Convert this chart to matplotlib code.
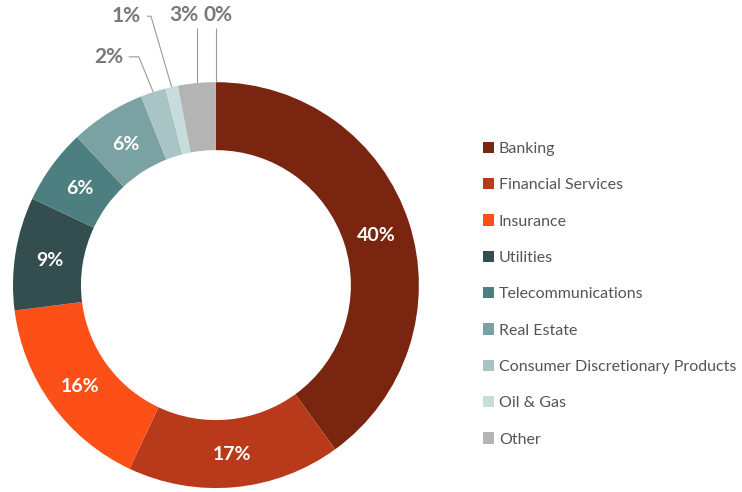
import numpy as np
import matplotlib
matplotlib.use("Agg")
import matplotlib.pyplot as plt

plt.rcParams["font.family"] = ["Lato", "DejaVu Sans"]

sectors = [
    "Banking",
    "Financial Services",
    "Insurance",
    "Utilities",
    "Telecommunications",
    "Real Estate",
    "Consumer Discretionary Products",
    "Oil & Gas",
    "Other",
    "",
]
weights = [40, 17, 16, 9, 6, 6, 2, 1, 3, 0]
colors = [
    "#7a2510", "#b83a1b", "#fd5019", "#344e4f", "#4d7e80",
    "#7ba2a3", "#a9c4c4", "#c9dcdc", "#b4b4b4", "#b4b4b4",
]

# small slices get an outside label: text position and elbow (data units)
outside = {
    6: ((-0.53, 1.125), (-0.38, 1.125)),
    7: ((-0.44, 1.325), (-0.32, 1.325)),
    8: ((-0.16, 1.33), None),
    9: ((0.01, 1.33), None),
}

fig = plt.figure(figsize=(7.42, 4.92), dpi=100)
ax = fig.add_axes([0.0175, 0.008, 0.547, 0.825])

wedges, _ = ax.pie(
    weights, colors=colors, startangle=90, counterclock=False,
    radius=1.0, wedgeprops=dict(width=0.335, linewidth=0),
)

for i, (w, val) in enumerate(zip(wedges, weights)):
    mid = np.deg2rad((w.theta1 + w.theta2) / 2)
    if i in outside:
        (tx, ty), elbow = outside[i]
        ax_x, ax_y = np.cos(mid), np.sin(mid)
        if elbow is None:
            xs, ys = [ax_x, ax_x], [ax_y, ty - 0.065]
        else:
            xs = [ax_x, elbow[0], tx + 0.1]
            ys = [ax_y, elbow[1], ty]
        ax.plot(xs, ys, color="#9a9a9a", lw=0.8, solid_capstyle="butt",
                clip_on=False)
        ax.text(tx, ty, f"{val}%", ha="center", va="center", fontsize=15,
                color="#787878", fontweight="bold", clip_on=False)
    else:
        r = 0.83
        ax.text(r * np.cos(mid), r * np.sin(mid) - 0.01, f"{val}%",
                ha="center", va="center", fontsize=14, color="white",
                fontweight="bold")

ax.set_xlim(-1, 1)
ax.set_ylim(-1, 1)
ax.set_aspect("equal")
ax.axis("off")

fig.legend(
    wedges[:9], sectors[:9], loc="upper left",
    bbox_to_anchor=(0.632, 0.741), frameon=False, fontsize=11.5,
    handlelength=0.69, handleheight=0.69, handletextpad=0.28,
    labelspacing=1.39, labelcolor="#555555",
)

fig.savefig("out.png", dpi=100, facecolor="white")
